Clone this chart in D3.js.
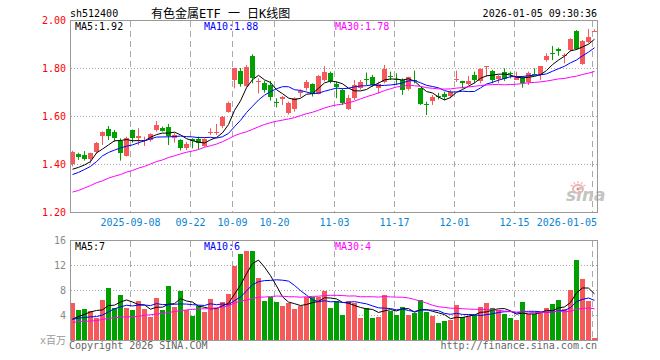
<!DOCTYPE html>
<html><head><meta charset="utf-8">
<script src="https://cdn.jsdelivr.net/npm/d3@7"></script>
<style>
body{margin:0;background:#fff}
svg{display:block}
text{font-family:"DejaVu Sans Mono","Liberation Mono",monospace;font-size:10px}
</style>
</head><body>
<svg id="c" width="660" height="360"></svg>
<script>
// ---------- data ----------
const symbol = "sh512400";
const title = "有色金属ETF 一 日K线图";
const stamp = "2026-01-05 09:30:36";
const dates = [
"2025-08-25","2025-08-26","2025-08-27","2025-08-28","2025-08-29",
"2025-09-01","2025-09-02","2025-09-03","2025-09-04","2025-09-05",
"2025-09-08","2025-09-09","2025-09-10","2025-09-11","2025-09-12",
"2025-09-15","2025-09-16","2025-09-17","2025-09-18","2025-09-19",
"2025-09-22","2025-09-23","2025-09-24","2025-09-25","2025-09-26",
"2025-09-29","2025-09-30","2025-10-09","2025-10-10",
"2025-10-13","2025-10-14","2025-10-15","2025-10-16","2025-10-17",
"2025-10-20","2025-10-21","2025-10-22","2025-10-23","2025-10-24",
"2025-10-27","2025-10-28","2025-10-29","2025-10-30","2025-10-31",
"2025-11-03","2025-11-04","2025-11-05","2025-11-06","2025-11-07",
"2025-11-10","2025-11-11","2025-11-12","2025-11-13","2025-11-14",
"2025-11-17","2025-11-18","2025-11-19","2025-11-20","2025-11-21",
"2025-11-24","2025-11-25","2025-11-26","2025-11-27","2025-11-28",
"2025-12-01","2025-12-02","2025-12-03","2025-12-04","2025-12-05",
"2025-12-08","2025-12-09","2025-12-10","2025-12-11","2025-12-12",
"2025-12-15","2025-12-16","2025-12-17","2025-12-18","2025-12-19",
"2025-12-22","2025-12-23","2025-12-24","2025-12-25","2025-12-26",
"2025-12-29","2025-12-30","2025-12-31","2026-01-05"];
const open = [1.400,1.442,1.438,1.417,1.449,1.517,1.544,1.532,1.497,1.433,
1.542,1.511,1.494,1.500,1.542,1.551,1.553,1.507,1.500,1.465,
1.504,1.503,1.475,1.528,1.528,1.556,1.618,1.750,1.789,1.725,
1.851,1.743,1.736,1.729,1.659,1.672,1.614,1.628,1.697,1.713,
1.732,1.692,1.750,1.778,1.733,1.708,1.632,1.674,1.718,1.755,
1.761,1.715,1.743,1.766,1.756,1.750,1.711,1.750,1.715,1.650,
1.660,1.683,1.692,1.686,1.750,1.744,1.733,1.771,1.746,1.803,
1.789,1.753,1.782,1.781,1.753,1.757,1.739,1.777,1.771,1.833,
1.862,1.881,1.849,1.875,1.954,1.817,1.910,1.951];
const high = [1.455,1.447,1.454,1.447,1.492,1.536,1.558,1.542,1.507,1.514,
1.544,1.549,1.514,1.528,1.579,1.556,1.567,1.528,1.503,1.492,
1.507,1.514,1.507,1.549,1.567,1.600,1.660,1.800,1.800,1.813,
1.857,1.757,1.747,1.746,1.674,1.683,1.660,1.678,1.711,1.750,
1.736,1.771,1.808,1.785,1.743,1.715,1.688,1.750,1.750,1.781,
1.771,1.743,1.813,1.785,1.778,1.757,1.764,1.789,1.715,1.660,
1.688,1.697,1.701,1.708,1.789,1.747,1.767,1.785,1.799,1.808,
1.792,1.771,1.799,1.785,1.785,1.764,1.785,1.799,1.808,1.861,
1.892,1.885,1.861,1.924,1.958,1.917,1.963,1.961];
const low = [1.390,1.417,1.414,1.403,1.444,1.479,1.500,1.493,1.414,1.431,
1.489,1.479,1.475,1.493,1.535,1.535,1.479,1.489,1.456,1.458,
1.465,1.461,1.472,1.521,1.521,1.549,1.614,1.715,1.722,1.722,
1.736,1.694,1.697,1.664,1.636,1.646,1.606,1.618,1.678,1.706,
1.681,1.690,1.744,1.736,1.674,1.646,1.625,1.667,1.710,1.729,
1.722,1.694,1.736,1.750,1.729,1.688,1.706,1.736,1.646,1.604,
1.646,1.669,1.667,1.674,1.742,1.715,1.729,1.736,1.736,1.764,
1.736,1.736,1.746,1.757,1.750,1.718,1.729,1.771,1.750,1.826,
1.833,1.851,1.819,1.868,1.875,1.813,1.903,1.950];
const close = [1.451,1.428,1.421,1.444,1.486,1.533,1.514,1.507,1.449,1.507,
1.507,1.518,1.500,1.524,1.563,1.539,1.517,1.521,1.468,1.483,
1.497,1.486,1.504,1.533,1.533,1.594,1.656,1.800,1.733,1.806,
1.761,1.747,1.706,1.678,1.655,1.679,1.656,1.674,1.704,1.740,
1.692,1.768,1.785,1.744,1.722,1.653,1.676,1.729,1.743,1.751,
1.729,1.733,1.796,1.762,1.750,1.708,1.761,1.744,1.650,1.647,
1.678,1.678,1.681,1.701,1.756,1.736,1.747,1.750,1.796,1.808,
1.750,1.767,1.753,1.775,1.764,1.736,1.778,1.774,1.808,1.851,
1.859,1.874,1.853,1.921,1.878,1.913,1.931,1.956];
// volume, millions
const volume = [5.87,4.75,4.9,4.6,3.47,6.35,8.27,5.17,7.15,5.07,
4.75,6.19,4.9,3.73,6.67,4.75,8.59,5.33,7.79,4.75,
3.84,5.39,4.43,6.51,5.07,6.03,7.31,11.8,13.7,14.2,
14.2,10.0,6.19,6.88,6.03,5.39,5.87,4.9,5.39,6.88,
6.83,6.88,7.79,5.2,6.2,4.05,6.2,5.97,3.6,5.1,
3.6,3.76,7.25,4.6,4.05,5.3,3.93,4.35,6.45,4.43,
3.79,2.67,2.99,3.15,5.55,3.63,3.79,3.95,5.23,5.87,
5.07,4.85,4.1,3.47,3.15,6.03,4.1,4.1,4.43,5.07,
5.71,6.35,4.9,7.95,12.75,9.7,6.24,0.27];
const ma5Head = [1.378,1.386,1.396,1.41];
const ma10Head = [1.356,1.365,1.377,1.39,1.41,1.434,1.448,1.458,1.467];
const ma30Head = [1.283,1.29,1.30,1.31,1.322,1.33,1.341,1.349,1.356,1.366,
1.373,1.383,1.39,1.40,1.41,1.417,1.427,1.434,1.442,1.449,
1.454,1.46,1.47,1.476,1.483,1.493,1.505,1.518,1.527];
const volMa5Head = [3.35,3.75,4.1,4.5];
const volMa10Head = [3.3,3.5,3.6,3.7,3.75,4.0,4.5,5.0,5.3];
const volMa30Head = [2.8,2.95,3.0,3.03,3.1,3.3,3.45,3.55,3.65,3.7,
3.73,3.8,3.95,4.05,4.15,4.25,4.4,4.55,4.7,4.8,
4.9,4.95,5.0,5.05,5.15,5.25,5.5,5.9,6.25];
const priceMaLabels = ["MA5:1.92","MA10:1.88","MA30:1.78"];
const volMaLabels = ["MA5:7","MA10:6","MA30:4"];
const tickDates = ["2025-09-08","2025-09-22","2025-10-09","2025-10-20","2025-11-03","2025-11-17","2025-12-01","2025-12-15","2026-01-05"];
const tickLabels = ["2025-09-08","09-22","10-09","10-20","11-03","11-17","12-01","12-15","2026-01-05"];
const priceTicks = [1.2,1.4,1.6,1.8,2.0];
const volTicks = [4,8,12,16];
const volUnit = "x百万";
const copyright = "Copyright 2026 SINA.COM";
const site = "http://finance.sina.com.cn";

// ---------- helpers ----------
function movingAvg(arr, n, head){
  return arr.map((_, i) => i < n - 1 ? head[i] : d3.mean(arr.slice(i - n + 1, i + 1)));
}
const ma5 = movingAvg(close, 5, ma5Head), ma10 = movingAvg(close, 10, ma10Head), ma30 = movingAvg(close, 30, ma30Head);
const vma5 = movingAvg(volume, 5, volMa5Head), vma10 = movingAvg(volume, 10, volMa10Head), vma30 = movingAvg(volume, 30, volMa30Head);

const RED = "#f65959", GREEN = "#00a000", FRAME = "#999", GRID = "#aaa";
const L = 70, R = 597, PT = 20, PB = 212, VT = 240, VB = 340;

const svg = d3.select("#c");
const x = d3.scaleBand().domain(dates).range([L, R]).paddingInner(1/6).paddingOuter(0).align(0);
const y = d3.scaleLinear().domain([1.2, 2.0]).range([PB, PT]);
const yv = d3.scaleLinear().domain([0, 16]).range([VB, VT]);
const bx = d => Math.round(x(d));
const cx = d => bx(d) + 2.5;
const idx = dates.map((d, i) => i);

svg.append("defs").html(
 `<clipPath id="cp"><rect x="${L+1}" y="${PT+1}" width="${R-L-1}" height="${PB-PT-1}"/></clipPath>
  <clipPath id="cv"><rect x="${L+1}" y="${VT+1}" width="${R-L-1}" height="${VB-VT}"/></clipPath>`);

// header
svg.append("text").attr("x", 70).attr("y", 17).attr("fill", "#000").text(symbol);
svg.append("text").attr("x", 151).attr("y", 17.5).attr("fill", "#000")
  .style("font-family", '"DejaVu Sans Mono","Noto Sans CJK SC",monospace').style("font-size", "12px").text(title);
svg.append("text").attr("x", 597).attr("y", 17).attr("text-anchor", "end").attr("fill", "#000").text(stamp);

// grids
const gp = svg.append("g");
gp.selectAll(".hg").data(priceTicks.filter(t => t > 1.2 && t < 2.0)).join("line")
  .attr("x1", L + 1).attr("x2", R).attr("y1", d => Math.round(y(d)) + 0.5).attr("y2", d => Math.round(y(d)) + 0.5)
  .attr("stroke", GRID).attr("stroke-dasharray", "1,2");
gp.selectAll(".hv").data(volTicks.filter(t => t < 16)).join("line")
  .attr("x1", L + 1).attr("x2", R).attr("y1", d => Math.round(yv(d)) + 0.5).attr("y2", d => Math.round(yv(d)) + 0.5)
  .attr("stroke", GRID).attr("stroke-dasharray", "1,2");
tickDates.forEach(d => {
  const xx = bx(d) + 0.5;
  gp.append("line").attr("x1", xx).attr("x2", xx).attr("y1", PT + 1).attr("y2", PB).attr("stroke", GRID).attr("stroke-dasharray", "6,4");
  gp.append("line").attr("x1", xx).attr("x2", xx).attr("y1", VT + 1).attr("y2", VB).attr("stroke", GRID).attr("stroke-dasharray", "6,4");
});

// sina watermark
const wm = svg.append("g");
wm.append("ellipse").attr("cx", 578).attr("cy", 189).attr("rx", 5).attr("ry", 4).attr("fill", "none").attr("stroke", "#f4b0b0").attr("stroke-width", 2);
wm.append("circle").attr("cx", 578).attr("cy", 189).attr("r", 1.5).attr("fill", "#e08080");
[-60,-30,0,30,60].forEach(a => {
  const r = a * Math.PI / 180;
  wm.append("line").attr("x1", 578 + Math.sin(r) * 6).attr("y1", 189 - Math.cos(r) * 5.5)
    .attr("x2", 578 + Math.sin(r) * 8.5).attr("y2", 189 - Math.cos(r) * 8).attr("stroke", "#f4b0b0").attr("stroke-width", 1.2);
});
wm.append("text").attr("x", 566).attr("y", 201).attr("fill", "#c4c4c4")
  .style("font-family", '"DejaVu Sans",sans-serif').style("font-size", "17px").style("font-weight", "bold").style("font-style", "italic").text("sina");

// candles
const gc = svg.append("g");
gc.selectAll(".wk").data(idx).join("line")
  .attr("x1", i => cx(dates[i])).attr("x2", i => cx(dates[i]))
  .attr("y1", i => y(high[i])).attr("y2", i => y(low[i]))
  .attr("stroke", i => close[i] >= open[i] ? RED : GREEN);
gc.selectAll(".bd").data(idx).join("rect")
  .attr("x", i => bx(dates[i])).attr("width", 5)
  .attr("y", i => Math.round(y(Math.max(open[i], close[i]))))
  .attr("height", i => Math.max(1, Math.round(Math.abs(y(open[i]) - y(close[i])))))
  .attr("fill", i => close[i] >= open[i] ? RED : GREEN);

// volume bars
svg.append("g").selectAll("rect").data(idx).join("rect")
  .attr("x", i => bx(dates[i])).attr("width", 5)
  .attr("y", i => Math.round(yv(volume[i])))
  .attr("height", i => VB - Math.round(yv(volume[i])))
  .attr("fill", i => close[i] >= open[i] ? RED : GREEN);

// MA lines
const maColors = ["#000", "#0000ff", "#ff00ff"];
[ma5, ma10, ma30].forEach((m, k) => {
  svg.append("path").attr("clip-path", "url(#cp)")
    .attr("d", d3.line().x(i => cx(dates[i])).y(i => y(m[i]))(idx))
    .attr("fill", "none").attr("stroke", maColors[k]).attr("stroke-width", 1);
});
[vma5, vma10, vma30].forEach((m, k) => {
  svg.append("path").attr("clip-path", "url(#cv)")
    .attr("d", d3.line().x(i => cx(dates[i])).y(i => yv(m[i]))(idx))
    .attr("fill", "none").attr("stroke", maColors[k]).attr("stroke-width", 1);
});

// frames
svg.append("rect").attr("x", L + 0.5).attr("y", PT + 0.5).attr("width", R - L).attr("height", PB - PT).attr("fill", "none").attr("stroke", FRAME);
svg.append("rect").attr("x", L + 0.5).attr("y", VT + 0.5).attr("width", R - L).attr("height", VB - VT).attr("fill", "none").attr("stroke", FRAME);

// axis labels
svg.selectAll(".pl").data(priceTicks).join("text")
  .attr("x", 66).attr("y", d => y(d) + 4).attr("text-anchor", "end").attr("fill", "#f00").text(d => d.toFixed(2));
svg.selectAll(".vl").data(volTicks).join("text")
  .attr("x", 66).attr("y", d => yv(d) + 4).attr("text-anchor", "end").attr("fill", "#888").text(d => d);
svg.append("text").attr("x", 66).attr("y", 344).attr("text-anchor", "end").attr("fill", "#999")
  .style("font-family", '"DejaVu Sans Mono","Noto Sans CJK SC",monospace').text(volUnit);
tickDates.forEach((d, k) => {
  const last = k === tickDates.length - 1;
  svg.append("text").attr("x", last ? R : bx(d) + 0.5).attr("y", 226)
    .attr("text-anchor", last ? "end" : "middle").attr("fill", "#0a84d2").text(tickLabels[k]);
});

// MA legends
const legX = [75, 204, 335];
priceMaLabels.forEach((t, k) => svg.append("text").attr("x", legX[k]).attr("y", 30).attr("fill", maColors[k]).text(t));
volMaLabels.forEach((t, k) => svg.append("text").attr("x", legX[k]).attr("y", 250).attr("fill", maColors[k]).text(t));

// footer
svg.append("text").attr("x", 69).attr("y", 349).attr("fill", "#666").text(copyright);
svg.append("text").attr("x", 597).attr("y", 349).attr("text-anchor", "end").attr("fill", "#666").text(site);
</script>
</body></html>
